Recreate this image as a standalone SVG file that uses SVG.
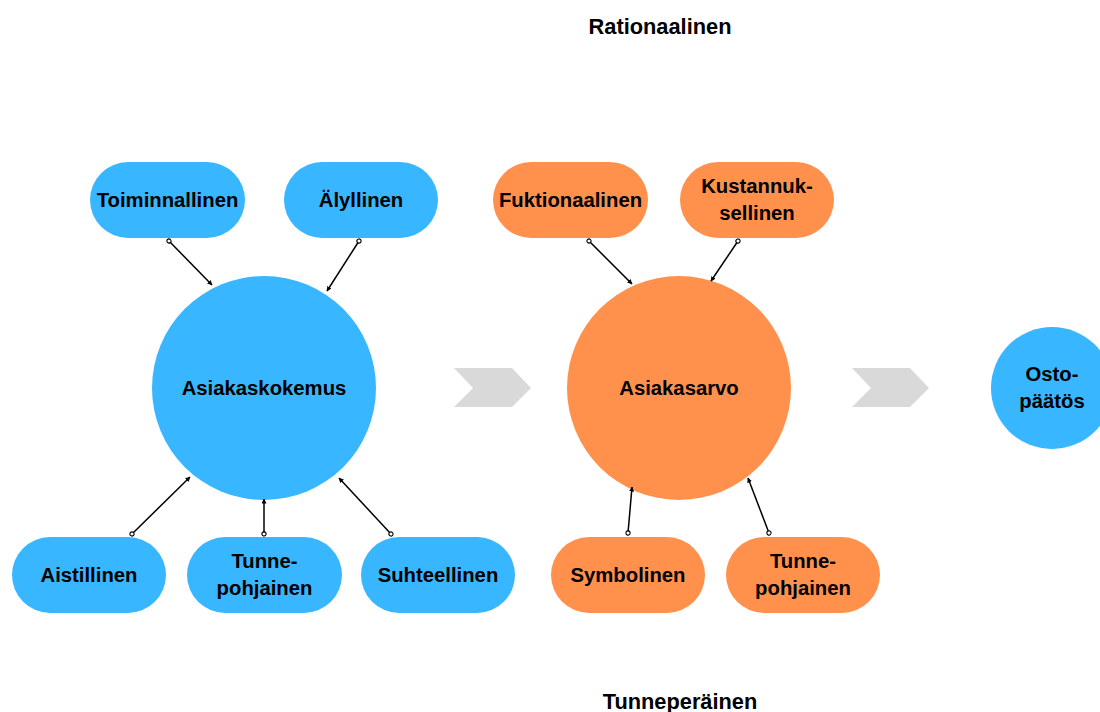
<svg xmlns="http://www.w3.org/2000/svg" width="1100" height="712" viewBox="0 0 1100 712">
<defs>
<style>
.b{fill:#38B6FF}
.o{fill:#FF914D}
.chev{fill:#D9D9D9}
text{font-family:"Liberation Sans",Arial,sans-serif;font-weight:bold;font-size:20.3px;fill:#000;text-anchor:middle}
.t{font-size:21.8px}
.c{stroke:#000;stroke-width:1.5;fill:none;marker-start:url(#dot);marker-end:url(#arr)}
</style>
<marker id="arr" viewBox="0 0 10 10" refX="9" refY="5" markerWidth="5" markerHeight="5" orient="auto" markerUnits="userSpaceOnUse"><path d="M0,0 L10,5 L0,10 z" fill="#000"/></marker>
<marker id="dot" viewBox="0 0 10 10" refX="5" refY="5" markerWidth="6" markerHeight="6" orient="auto" markerUnits="userSpaceOnUse"><circle cx="5" cy="5" r="3.5" fill="#fff" stroke="#000" stroke-width="1.8"/></marker>
</defs>
<rect width="1100" height="712" fill="#fff"/>
<text class="t" x="660" y="34">Rationaalinen</text>
<text class="t" x="680" y="709">Tunneperäinen</text>
<g id="chevron1"><polygon class="chev" points="454,368 512,368 531,388 512,407 454,407 473,388"/></g>
<g id="chevron2"><polygon class="chev" points="852,368 910,368 929,388 910,407 852,407 871,388"/></g>
<g id="asiakaskokemus"><circle class="b" cx="264" cy="388" r="112"/><text x="264" y="395">Asiakaskokemus</text></g>
<g id="asiakasarvo"><circle class="o" cx="679" cy="388" r="112"/><text x="679" y="395">Asiakasarvo</text></g>
<g id="ostopaatos"><circle class="b" cx="1052" cy="388" r="61"/><text x="1052" y="381">Osto-</text><text x="1052" y="408">päätös</text></g>
<g id="toiminnallinen"><rect class="b" x="90" y="162" width="155" height="76" rx="38"/><text x="167.5" y="207">Toiminnallinen</text></g>
<g id="alyllinen"><rect class="b" x="284" y="162" width="154" height="76" rx="38"/><text x="361" y="207">Älyllinen</text></g>
<g id="fuktionaalinen"><rect class="o" x="493" y="162" width="155" height="76" rx="38"/><text x="570.5" y="207">Fuktionaalinen</text></g>
<g id="kustannuksellinen"><rect class="o" x="680" y="162" width="154" height="76" rx="38"/><text x="757" y="193">Kustannuk-</text><text x="757" y="220">sellinen</text></g>
<g id="aistillinen"><rect class="b" x="12" y="537" width="154" height="76" rx="38"/><text x="89" y="582">Aistillinen</text></g>
<g id="tunnepohjainen1"><rect class="b" x="187" y="537" width="155" height="76" rx="38"/><text x="264.5" y="568">Tunne-</text><text x="264.5" y="595">pohjainen</text></g>
<g id="suhteellinen"><rect class="b" x="361" y="537" width="154" height="76" rx="38"/><text x="438" y="582">Suhteellinen</text></g>
<g id="symbolinen"><rect class="o" x="551" y="537" width="154" height="76" rx="38"/><text x="628" y="582">Symbolinen</text></g>
<g id="tunnepohjainen2"><rect class="o" x="726" y="537" width="154" height="76" rx="38"/><text x="803" y="568">Tunne-</text><text x="803" y="595">pohjainen</text></g>
<g id="connectors">
<path class="c" d="M169,241 L212,285"/>
<path class="c" d="M359,241 L327,291"/>
<path class="c" d="M132,534 L190,477"/>
<path class="c" d="M264,534 L264,499"/>
<path class="c" d="M391,534 L339,478"/>
<path class="c" d="M589,241 L632,284"/>
<path class="c" d="M738,241 L711,281"/>
<path class="c" d="M628,533 L632,487"/>
<path class="c" d="M769,533 L748,478"/>
</g>
</svg>
